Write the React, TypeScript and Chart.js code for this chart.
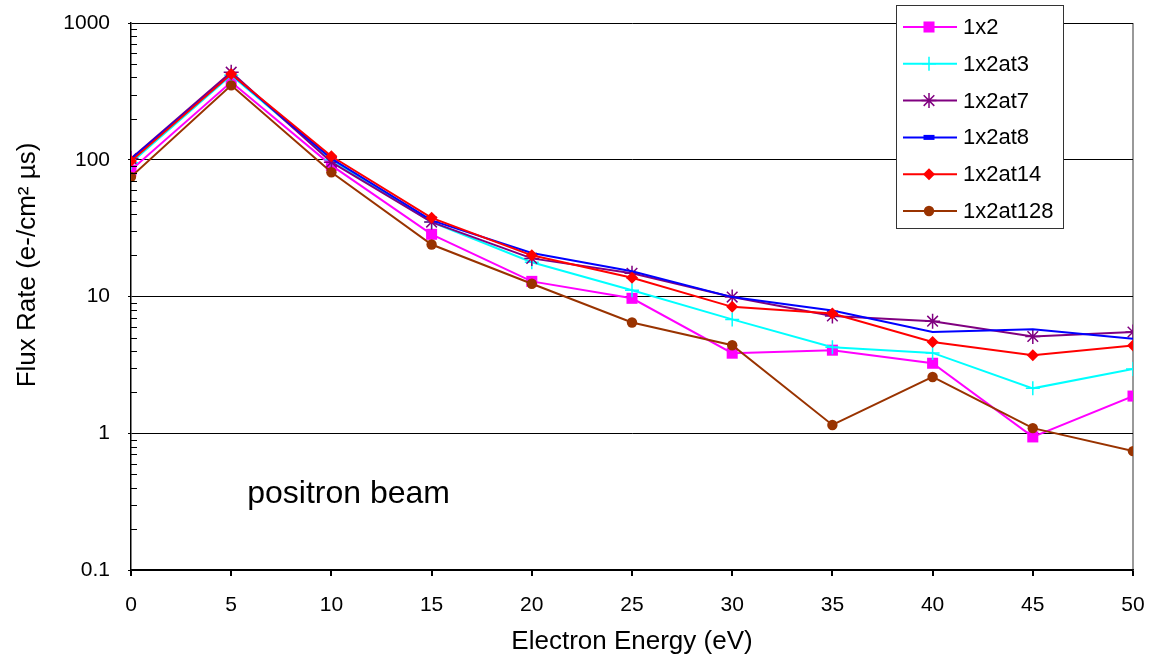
import React, { useEffect, useRef } from 'react';
import { Chart, registerables } from 'chart.js';

Chart.register(...registerables);

const energies = [0, 5, 10, 15, 20, 25, 30, 35, 40, 45, 50];
const s1x2 = [84, 370, 91, 28.5, 12.9, 9.7, 3.85, 4.05, 3.25, 0.94, 1.87];
const s1x2at3 = [95, 415, 100, 35, 17.8, 11.1, 6.8, 4.26, 3.87, 2.13, 2.95];
const s1x2at7 = [102, 437, 96, 35, 19, 14.8, 9.9, 7.2, 6.6, 5.1, 5.5];
const s1x2at8 = [101, 424, 102, 36, 20.8, 15.3, 9.9, 7.9, 5.5, 5.77, 4.9];
const s1x2at14 = [98, 424, 106, 37.6, 20, 13.7, 8.4, 7.5, 4.65, 3.72, 4.38];
const s1x2at128 = [75, 350, 81, 24, 12.4, 6.45, 4.4, 1.15, 2.58, 1.09, 0.74];

const seriesNames = ['1x2', '1x2at3', '1x2at7', '1x2at8', '1x2at14', '1x2at128'];
const seriesValues = [s1x2, s1x2at3, s1x2at7, s1x2at8, s1x2at14, s1x2at128];
const seriesColors = ['#FF00FF', '#00FFFF', '#800080', '#0000FF', '#FF0000', '#993300'];
const seriesMarkers = ['rect', 'cross', 'star', 'dash', 'rectRot', 'circle'];
const markerRadius = [7.8, 7, 7.5, 0, 6, 5.2];

const yMajorTicks = [0.1, 1, 10, 100, 1000];
const xTickStep = 5;
const xTitle = 'Electron Energy (eV)';
const yTitle = 'Flux Rate (e-/cm² µs)';
const annotationText = 'positron beam';
const annotationX = 5.8;
const annotationY = 0.36;

const FONT = '"Liberation Sans", Arial, sans-serif';

function drawMarker(ctx: CanvasRenderingContext2D, style: string, x: number, y: number, r: number, color: string) {
  ctx.save();
  ctx.fillStyle = color;
  ctx.strokeStyle = color;
  ctx.lineWidth = 1.5;
  ctx.beginPath();
  if (style === 'rect') {
    const s = Math.SQRT1_2 * r;
    ctx.rect(x - s, y - s, 2 * s, 2 * s);
    ctx.fill();
  } else if (style === 'rectRot') {
    ctx.moveTo(x - r, y);
    ctx.lineTo(x, y - r);
    ctx.lineTo(x + r, y);
    ctx.lineTo(x, y + r);
    ctx.closePath();
    ctx.fill();
  } else if (style === 'circle') {
    ctx.arc(x, y, r, 0, Math.PI * 2);
    ctx.fill();
  } else if (style === 'cross') {
    ctx.moveTo(x - r, y); ctx.lineTo(x + r, y);
    ctx.moveTo(x, y - r); ctx.lineTo(x, y + r);
    ctx.stroke();
  } else if (style === 'star') {
    ctx.moveTo(x - r, y); ctx.lineTo(x + r, y);
    ctx.moveTo(x, y - r); ctx.lineTo(x, y + r);
    const d = r * Math.SQRT1_2;
    ctx.moveTo(x - d, y - d); ctx.lineTo(x + d, y + d);
    ctx.moveTo(x - d, y + d); ctx.lineTo(x + d, y - d);
    ctx.stroke();
  } else if (style === 'dash') {
    ctx.fillRect(x - 5.5, y - 2.5, 11, 5);
  }
  ctx.restore();
}

const extrasPlugin = {
  id: 'extras',
  afterDraw(chart: any) {
    const ctx: CanvasRenderingContext2D = chart.ctx;
    const ys = chart.scales.y;
    const xs = chart.scales.x;
    const area = chart.chartArea;
    // minor ticks on y axis (inward)
    ctx.save();
    ctx.strokeStyle = '#000';
    ctx.lineWidth = 1;
    for (let d = -1; d < 3; d++) {
      for (let k = 2; k <= 9; k++) {
        const v = k * Math.pow(10, d);
        const py = Math.round(ys.getPixelForValue(v)) + 0.5;
        ctx.beginPath();
        ctx.moveTo(area.left, py);
        ctx.lineTo(area.left + 6, py);
        ctx.stroke();
      }
    }
    ctx.restore();

    // y axis title
    ctx.save();
    ctx.fillStyle = '#000';
    ctx.font = '26px ' + FONT;
    ctx.textAlign = 'center';
    ctx.textBaseline = 'middle';
    ctx.translate(28, 265);
    ctx.rotate(-Math.PI / 2);
    ctx.fillText(yTitle, 0, 0);
    ctx.restore();

    // annotation
    ctx.save();
    ctx.fillStyle = '#000';
    ctx.font = '32px ' + FONT;
    ctx.textBaseline = 'middle';
    ctx.textAlign = 'left';
    ctx.fillText(annotationText, xs.getPixelForValue(annotationX), ys.getPixelForValue(annotationY));
    ctx.restore();

    // legend
    const bx = 896, by = 5, bw = 167, bh = 223;
    ctx.save();
    ctx.fillStyle = '#fff';
    ctx.fillRect(bx, by, bw, bh);
    ctx.strokeStyle = '#333';
    ctx.lineWidth = 1;
    ctx.strokeRect(bx + 0.5, by + 0.5, bw, bh);
    ctx.font = '22px ' + FONT;
    ctx.textBaseline = 'middle';
    ctx.textAlign = 'left';
    seriesNames.forEach((name, i) => {
      const cy = 27 + i * 36.8;
      ctx.strokeStyle = seriesColors[i];
      ctx.lineWidth = 2;
      ctx.beginPath();
      ctx.moveTo(903, cy);
      ctx.lineTo(957, cy);
      ctx.stroke();
      drawMarker(ctx, seriesMarkers[i], 929, cy, markerRadius[i], seriesColors[i]);
      ctx.fillStyle = '#000';
      ctx.fillText(name, 963, cy + 1);
    });
    ctx.restore();
  },
};

export default function App() {
  const ref = useRef<HTMLCanvasElement>(null);
  useEffect(() => {
    const canvas = ref.current!;
    const dash = document.createElement('canvas');
    dash.width = 11;
    dash.height = 5;
    const dctx = dash.getContext('2d')!;
    dctx.fillStyle = '#0000FF';
    dctx.fillRect(0, 0, 11, 5);

    const n = seriesNames.length;
    const datasets = seriesNames.map((name, i) => ({
      label: name,
      data: energies.map((e, j) => ({ x: e, y: seriesValues[i][j] })),
      borderColor: seriesColors[i],
      backgroundColor: seriesColors[i],
      borderWidth: 2,
      pointStyle: seriesMarkers[i] === 'dash' ? dash : seriesMarkers[i],
      pointRadius: markerRadius[i],
      pointBorderWidth: seriesMarkers[i] === 'cross' || seriesMarkers[i] === 'star' ? 1.5 : 0,
      pointBorderColor: seriesColors[i],
      pointBackgroundColor: seriesColors[i],
      tension: 0,
      order: n - i,
    }));

    const chart = new Chart(canvas, {
      type: 'line',
      data: { datasets },
      plugins: [extrasPlugin],
      options: {
        animation: false,
        responsive: false,
        devicePixelRatio: 1,
        layout: { padding: { top: 23, right: 18, left: 0, bottom: 0 }, autoPadding: false },
        plugins: {
          legend: { display: false },
          tooltip: { enabled: false },
        },
        scales: {
          x: {
            type: 'linear',
            min: 0,
            max: 50,
            ticks: {
              stepSize: xTickStep,
              color: '#000',
              font: { family: FONT, size: 21 },
              padding: 17,
              maxRotation: 0,
            },
            grid: {
              drawOnChartArea: true,
              color: (c: any) => (c.tick && c.tick.value === 50 ? '#999999' : 'rgba(0,0,0,0)'),
              lineWidth: 2,
              tickColor: '#000',
              tickLength: 6,
              drawTicks: true,
            },
            border: { display: true, color: '#000', width: 1.5 },
            title: {
              display: true,
              text: xTitle,
              color: '#000',
              font: { family: FONT, size: 26 },
              padding: { top: 0, bottom: 4 },
            },
            afterFit: (s: any) => { s.height = 91; s.paddingLeft = 0; s.paddingRight = 0; },
          },
          y: {
            type: 'logarithmic',
            min: 0.1,
            max: 1000,
            afterBuildTicks: (s: any) => { s.ticks = yMajorTicks.map((v) => ({ value: v, major: true })); },
            ticks: {
              color: '#000',
              font: { family: FONT, size: 21 },
              padding: 18,
              callback: (v: any) => String(v),
            },
            grid: {
              color: '#000',
              lineWidth: 1,
              tickColor: '#000',
              tickLength: 3,
            },
            border: { display: true, color: '#000', width: 1.5 },
            title: { display: false, text: yTitle },
            afterFit: (s: any) => { s.width = 131; s.paddingTop = 0; s.paddingBottom = 0; },
          },
        },
      },
    } as any);
    return () => chart.destroy();
  }, []);
  return (
    <canvas
      ref={ref}
      width={1151}
      height={661}
      style={{ position: 'absolute', left: 0, top: 0, width: 1151, height: 661 }}
    />
  );
}
